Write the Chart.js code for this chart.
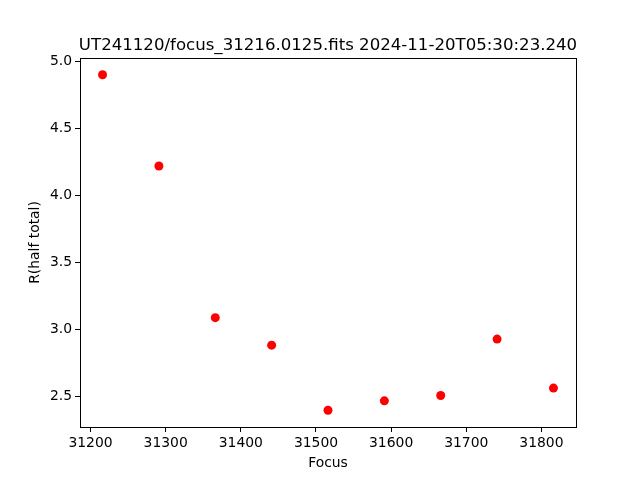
<!DOCTYPE html>
<html>
<head>
<meta charset="utf-8">
<script src="https://cdn.jsdelivr.net/npm/chart.js@4"></script>
<style>
  html, body { margin: 0; padding: 0; background: #fff; }
  #wrap { width: 640px; height: 480px; }
</style>
</head>
<body>
<div id="wrap"><canvas id="myChart" width="640" height="480"></canvas></div>
<script>
// focus positions and measured radius
const focusValues = [31216, 31291, 31366, 31441, 31516, 31591, 31666, 31741, 31816];
const radiusValues = [4.90, 4.22, 3.09, 2.885, 2.40, 2.47, 2.51, 2.93, 2.565];
const xTicks = [31200, 31300, 31400, 31500, 31600, 31700, 31800];
const yTicks = [2.5, 3.0, 3.5, 4.0, 4.5, 5.0];
const titleText = "UT241120/focus_31216.0125.fits 2024-11-20T05:30:23.240";

const font = "DejaVu Sans";

// frame box + title, matplotlib style
const framePlugin = {
  id: "frame",
  afterDraw(chart) {
    const c = chart.ctx;
    const a = chart.chartArea;
    c.save();
    c.strokeStyle = "#000";
    c.lineWidth = 1;
    c.strokeRect(Math.round(a.left) + 0.5, Math.round(a.top) + 0.5,
      Math.round(a.right - a.left), Math.round(a.bottom - a.top));
    c.fillStyle = "#000";
    c.font = "16.6px '" + font + "'";
    c.textAlign = "center";
    c.textBaseline = "alphabetic";
    c.fillText(titleText, (a.left + a.right) / 2, 50);
    c.restore();
  }
};

const points = focusValues.map((x, i) => ({ x: x, y: radiusValues[i] }));

const ctx = document.getElementById("myChart");

myChart = new Chart(ctx, {
  type: "scatter",
  data: {
    datasets: [
      {
        data: points,
        backgroundColor: "#ff0000",
        borderWidth: 0,
        pointRadius: 4.5,
      },
    ],
  },
  options: {
    responsive: false,
    animation: false,
    layout: { padding: { top: 58, right: 64, left: 0, bottom: 0 } },
    plugins: {
      legend: { display: false },
      tooltip: { enabled: false },
    },
    scales: {
      x: {
        type: "linear",
        min: 31186,
        max: 31846,
        afterBuildTicks: (axis) => { axis.ticks = xTicks.map((v) => ({ value: v })); },
        afterFit: (axis) => { axis.height = 53; },
        grid: { drawOnChartArea: false, drawTicks: true, tickLength: 5, tickColor: "#000" },
        border: { display: true, color: "#000" },
        ticks: { color: "#000", padding: 3, maxRotation: 0, font: { family: font, size: 13.9 },
          callback: (v) => String(v) },
        title: { display: true, text: "Focus", color: "#000", padding: { top: 0, bottom: 8 },
          font: { family: font, size: 13.9 } },
      },
      y: {
        type: "linear",
        min: 2.275,
        max: 5.025,
        afterBuildTicks: (axis) => { axis.ticks = yTicks.map((v) => ({ value: v })); },
        afterFit: (axis) => { axis.width = 80; },
        grid: { drawOnChartArea: false, drawTicks: true, tickLength: 5, tickColor: "#000" },
        border: { display: true, color: "#000" },
        ticks: { color: "#000", padding: 3, font: { family: font, size: 13.9 },
          callback: (v) => v.toFixed(1) },
        title: { display: true, text: "R(half total)", color: "#000", padding: { top: 27, bottom: 0 },
          font: { family: font, size: 13.9 } },
      },
    },
  },
  plugins: [framePlugin],
});
</script>
</body>
</html>
